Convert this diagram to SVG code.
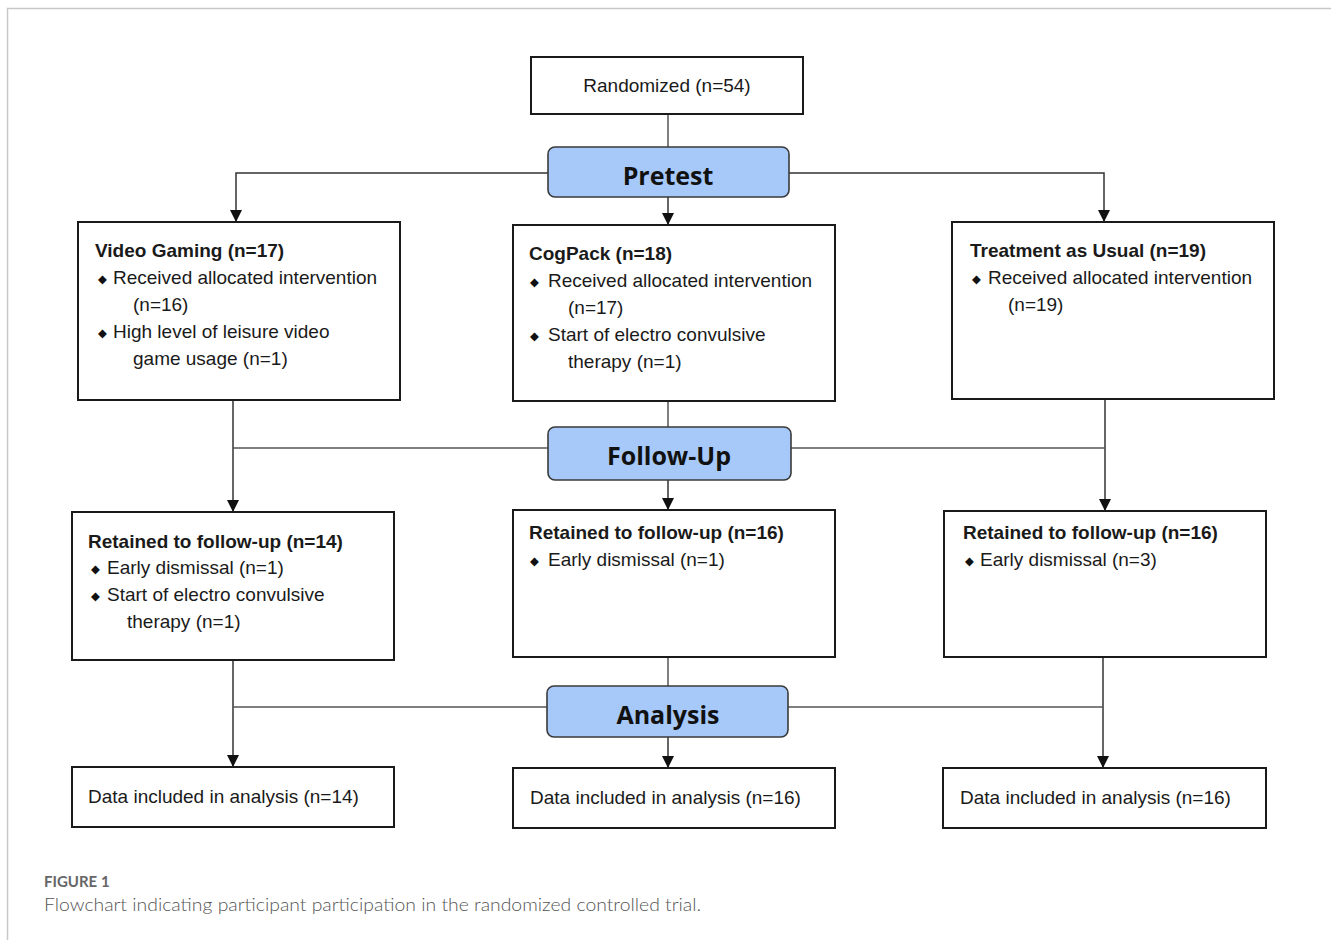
<svg xmlns="http://www.w3.org/2000/svg" width="1331" height="940" viewBox="0 0 1331 940">
<defs>
<marker id="arr" markerUnits="userSpaceOnUse" markerWidth="12" markerHeight="13" refX="12" refY="6" orient="auto" viewBox="0 0 12 12">
<path d="M0,0 L12,6 L0,12 z" fill="#111"/>
</marker>
<style>
.box{fill:#fff;stroke:#1a1a1a;stroke-width:2}
.phase{fill:#a6c9fa;stroke:#3a3a3a;stroke-width:1.6}
.t{font-family:"Liberation Sans",Arial,sans-serif;font-size:19px;fill:#1a1a1a}
.b{font-weight:bold}
.bul{font-family:"DejaVu Sans",sans-serif;font-size:11.5px;fill:#111}
.ph{font-family:"Open Sans","Noto Sans",sans-serif;font-weight:bold;font-size:25px;fill:#111;text-anchor:middle}
.ln{fill:none;stroke:#555;stroke-width:1.5}
.ar{fill:none;stroke:#333;stroke-width:1.5;marker-end:url(#arr)}
</style>
</defs>
<rect width="1331" height="940" fill="#fff"/>
<path d="M7.5,940 V8.5 H1331" fill="none" stroke="#c8c8c8" stroke-width="1.5"/>

<g id="connectors">
<line class="ln" x1="668" y1="114" x2="668" y2="147"/>
<polyline class="ar" points="548,173 236,173 236,222"/>
<polyline class="ar" points="789,173 1104,173 1104,222"/>
<line class="ar" x1="668" y1="197" x2="668" y2="225"/>

<line class="ar" x1="233" y1="400" x2="233" y2="512"/>
<line class="ln" x1="233" y1="448" x2="548" y2="448"/>
<line class="ln" x1="668" y1="401" x2="668" y2="427"/>
<line class="ar" x1="668" y1="480" x2="668" y2="510"/>
<line class="ar" x1="1105" y1="399" x2="1105" y2="511"/>
<line class="ln" x1="791" y1="448" x2="1105" y2="448"/>

<line class="ar" x1="233" y1="660" x2="233" y2="767"/>
<line class="ln" x1="233" y1="707" x2="547" y2="707"/>
<line class="ln" x1="668" y1="657" x2="668" y2="686"/>
<line class="ar" x1="668" y1="737" x2="668" y2="768"/>
<line class="ar" x1="1103" y1="657" x2="1103" y2="768"/>
<line class="ln" x1="788" y1="707" x2="1103" y2="707"/>
</g>

<g id="randomized">
<rect class="box" x="531" y="57" width="272" height="57"/>
<text class="t" x="667" y="92" text-anchor="middle">Randomized (n=54)</text>
</g>

<g id="pretest">
<rect class="phase" x="548" y="147" width="241" height="50" rx="7"/>
<text class="ph" x="668" y="185">Pretest</text>
</g>

<g id="video-gaming">
<rect class="box" x="78" y="222" width="322" height="178"/>
<text class="t b" x="95" y="257">Video Gaming (n=17)</text>
<text class="bul" x="98" y="283">◆</text>
<text class="t" x="113" y="284">Received allocated intervention</text>
<text class="t" x="133" y="311">(n=16)</text>
<text class="bul" x="98" y="337">◆</text>
<text class="t" x="113" y="338">High level of leisure video</text>
<text class="t" x="133" y="365">game usage (n=1)</text>
</g>

<g id="cogpack">
<rect class="box" x="513" y="225" width="322" height="176"/>
<text class="t b" x="529" y="260">CogPack (n=18)</text>
<text class="bul" x="530" y="286">◆</text>
<text class="t" x="548" y="287">Received allocated intervention</text>
<text class="t" x="568" y="314">(n=17)</text>
<text class="bul" x="530" y="340">◆</text>
<text class="t" x="548" y="341">Start of electro convulsive</text>
<text class="t" x="568" y="368">therapy (n=1)</text>
</g>

<g id="treatment-as-usual">
<rect class="box" x="952" y="222" width="322" height="177"/>
<text class="t b" x="970" y="257">Treatment as Usual (n=19)</text>
<text class="bul" x="972" y="283">◆</text>
<text class="t" x="988" y="284">Received allocated intervention</text>
<text class="t" x="1008" y="311">(n=19)</text>
</g>

<g id="follow-up">
<rect class="phase" x="548" y="427" width="243" height="53" rx="7"/>
<text class="ph" x="669" y="465">Follow-Up</text>
</g>

<g id="retained-vg">
<rect class="box" x="72" y="512" width="322" height="148"/>
<text class="t b" x="88" y="548">Retained to follow-up (n=14)</text>
<text class="bul" x="91" y="573">◆</text>
<text class="t" x="107" y="574">Early dismissal (n=1)</text>
<text class="bul" x="91" y="600">◆</text>
<text class="t" x="107" y="601">Start of electro convulsive</text>
<text class="t" x="127" y="628">therapy (n=1)</text>
</g>

<g id="retained-cp">
<rect class="box" x="513" y="510" width="322" height="147"/>
<text class="t b" x="529" y="539">Retained to follow-up (n=16)</text>
<text class="bul" x="530" y="565">◆</text>
<text class="t" x="548" y="566">Early dismissal (n=1)</text>
</g>

<g id="retained-tau">
<rect class="box" x="944" y="511" width="322" height="146"/>
<text class="t b" x="963" y="539">Retained to follow-up (n=16)</text>
<text class="bul" x="965" y="565">◆</text>
<text class="t" x="980" y="566">Early dismissal (n=3)</text>
</g>

<g id="analysis">
<rect class="phase" x="547" y="686" width="241" height="51" rx="7"/>
<text class="ph" x="668" y="724">Analysis</text>
</g>

<g id="data-vg">
<rect class="box" x="72" y="767" width="322" height="60"/>
<text class="t" x="88" y="803">Data included in analysis (n=14)</text>
</g>
<g id="data-cp">
<rect class="box" x="513" y="768" width="322" height="60"/>
<text class="t" x="530" y="804">Data included in analysis (n=16)</text>
</g>
<g id="data-tau">
<rect class="box" x="943" y="768" width="323" height="60"/>
<text class="t" x="960" y="804">Data included in analysis (n=16)</text>
</g>

<g id="caption">
<text x="44" y="887" font-family="Lato,'Open Sans',sans-serif" font-weight="bold" font-size="15" fill="#666">FIGURE 1</text>
<text x="44" y="911" font-family="Lato,'Open Sans',sans-serif" font-weight="300" font-size="17.5" fill="#555" textLength="657" lengthAdjust="spacingAndGlyphs">Flowchart indicating participant participation in the randomized controlled trial.</text>
</g>
</svg>
